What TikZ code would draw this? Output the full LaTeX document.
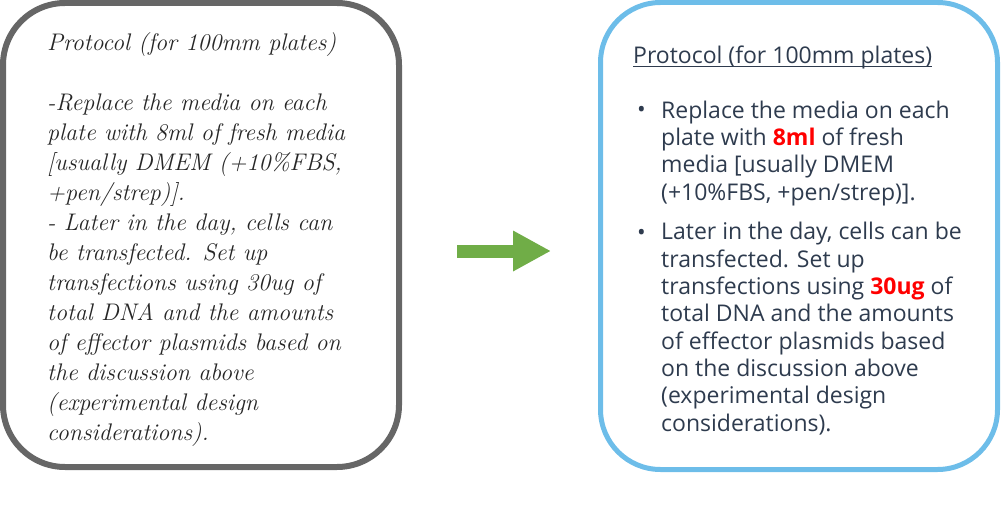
\documentclass[tikz,border=0pt]{standalone}
\usepackage{fontspec}
\setmainfont{Open Sans}
\newfontfamily\handfont{Latin Modern Roman}
\usetikzlibrary{arrows.meta,positioning}

\definecolor{boxgray}{HTML}{666666}
\definecolor{boxblue}{HTML}{6DBDE9}
\definecolor{textnavy}{HTML}{2E3B4E}
\definecolor{arrowgreen}{HTML}{70AD47}
\definecolor{hotred}{HTML}{FF0000}
\newcommand{\hot}[1]{\textcolor{hotred}{\textbf{#1}}}

\begin{document}
\begin{tikzpicture}[
    x=1pt, y=-1pt,
    oldbox/.style={draw=boxgray, line width=6pt, rounded corners=62pt, minimum width=396pt, minimum height=464pt, inner sep=0pt},
    newbox/.style={draw=boxblue, line width=5pt, rounded corners=60pt, minimum width=397pt, minimum height=467pt, inner sep=0pt},
    handtext/.style={anchor=base west, inner sep=0pt, align=left, text=black!85, font=\handfont\itshape\fontsize{24}{30}\selectfont},
    cleantext/.style={anchor=base west, inner sep=0pt, align=left, text=textnavy, font=\fontsize{23}{27.3}\selectfont},
    bulletmark/.style={anchor=base west, inner sep=0pt, text=textnavy, font=\fontsize{23}{27.3}\selectfont},
    bigarrow/.style={line width=13pt, arrowgreen, -{Triangle[length=38pt, width=38pt]}}
]
    \useasboundingbox (0,0) rectangle (1001,532);

    % the two boxes
    \node[oldbox] (oldproto) at (201,235) {};
    \node[newbox] (newproto) at (799,236) {};

    % handwritten draft (base = last line)
    \node[handtext] (oldtext) at (47,440) {Protocol (for 100mm plates)\\[30pt]
        -Replace the media on each\\
        plate with 8ml of fresh media\\
        {[}usually DMEM (+10\%FBS,\\
        +pen/strep)].\\
        - Later in the day, cells can\\
        be transfected. Set up\\
        transfections using 30ug of\\
        total DNA and the amounts\\
        of effector plasmids based on\\
        the discussion above\\
        (experimental design\\
        considerations).};

    % cleaned-up version
    \node[cleantext] (newtitle) at (633,64) {Protocol (for 100mm plates)};
    \draw[textnavy, line width=1pt] ([yshift=-3pt]newtitle.base west) -- ([yshift=-3pt]newtitle.base east);

    \node[bulletmark] (firstdot) at (637,118) {•};
    \node[cleantext] (firststep) at (661,200) {Replace the media on each\\
        plate with \hot{8ml} of fresh\\
        media [usually DMEM\\
        (+10\%FBS, +pen/strep)].};

    \node[bulletmark] (seconddot) at (637,240) {•};
    \node[cleantext] (secondstep) at (661,431) {Later in the day, cells can be\\
        transfected. Set up\\
        transfections using \hot{30ug} of\\
        total DNA and the amounts\\
        of effector plasmids based\\
        on the discussion above\\
        (experimental design\\
        considerations).};

    % arrow between them
    \coordinate (arrowtail) at (457,251);
    \coordinate (arrowtip) at (551,251);
    \draw[bigarrow] (arrowtail) -- (arrowtip);

\end{tikzpicture}
\end{document}
